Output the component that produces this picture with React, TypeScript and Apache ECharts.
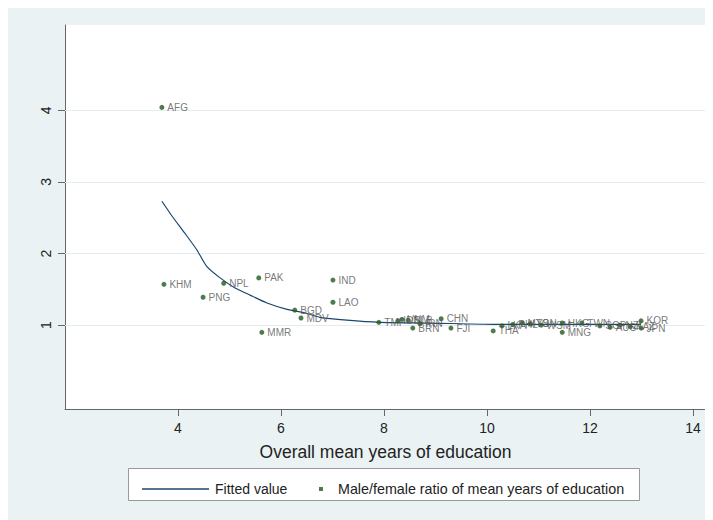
import React, { useEffect, useRef } from "react";
import * as echarts from "echarts";

// Country codes, overall mean years of education (x), male/female ratio (y)
const codes = [
  "AFG", "KHM", "PNG", "NPL", "PAK", "MMR", "BGD", "MDV", "IND", "LAO", "TMP",
  "IDN", "VNM", "SLB", "BRN", "IRN", "CHN", "FJI",
  "THA", "LKA", "PHL", "MYS", "TON", "WSM", "HKG", "MNG",
  "TWN", "SGP", "AUS", "NZL", "KAZ", "KOR", "JPN",
];
const eduYears = [
  3.69, 3.73, 4.49, 4.89, 5.57, 5.63, 6.27, 6.39, 7.01, 7.01, 7.9,
  8.27, 8.35, 8.47, 8.56, 8.7, 9.11, 9.3,
  10.12, 10.29, 10.5, 10.68, 10.84, 11.05, 11.46, 11.46,
  11.84, 12.19, 12.39, 12.58, 12.78, 12.99, 12.99,
];
const ratio = [
  4.04, 1.57, 1.39, 1.585, 1.66, 0.9, 1.21, 1.1, 1.63, 1.32, 1.04,
  1.06, 1.08, 1.07, 0.96, 1.02, 1.09, 0.96,
  0.92, 0.99, 1.01, 1.03, 1.02, 1.0, 1.03, 0.9,
  1.03, 0.99, 0.97, 1.0, 0.98, 1.06, 0.96,
];

// Fitted curve
const fitX = [3.69, 3.9, 4.14, 4.37, 4.56, 4.82, 5.11, 5.4, 5.73, 6.12, 6.47, 6.76, 7.28, 7.92, 8.89, 10.25, 12.19, 12.99];
const fitY = [2.73, 2.51, 2.28, 2.05, 1.82, 1.66, 1.52, 1.42, 1.31, 1.22, 1.17, 1.11, 1.07, 1.04, 1.03, 1.01, 1.01, 1.01];

const xTicks = [4, 6, 8, 10, 12, 14];
const yTicks = [1, 2, 3, 4];

const FIT_NAME = "Fitted value";
const PT_NAME = "Male/female ratio of mean years of education";
const FONT = "'Liberation Sans', Arial, sans-serif";

export default function App() {
  const ref = useRef<HTMLDivElement>(null);
  useEffect(() => {
    if (!ref.current) return;
    const chart = echarts.init(ref.current, null, { renderer: "svg" });
    const points = codes.map((c, i) => ({ name: c, value: [eduYears[i], ratio[i]] }));
    const fit = fitX.map((x, i) => [x, fitY[i]]);
    chart.setOption({
      animation: false,
      backgroundColor: "#eaf2f3",
      textStyle: { fontFamily: FONT },
      grid: {
        left: 57,
        right: 7,
        top: 17,
        bottom: 111,
        show: true,
        backgroundColor: "#ffffff",
        borderWidth: 0,
      },
      xAxis: {
        type: "value",
        min: 1.81,
        max: 14.25,
        name: "Overall mean years of education",
        nameLocation: "middle",
        nameGap: 34,
        nameTextStyle: { fontSize: 17.5, color: "#222", fontFamily: FONT },
        axisLine: { show: true, onZero: false, lineStyle: { color: "#666", width: 1 } },
        axisTick: { show: true, length: 7, lineStyle: { color: "#666" }, customValues: xTicks },
        axisLabel: { fontSize: 14, color: "#222", margin: 12, customValues: xTicks, fontFamily: FONT },
        splitLine: { show: false },
      },
      yAxis: {
        type: "value",
        min: -0.17,
        max: 5.19,
        axisLine: { show: true, onZero: false, lineStyle: { color: "#666", width: 1 } },
        axisTick: { show: true, length: 7, lineStyle: { color: "#666" }, customValues: yTicks },
        axisLabel: { fontSize: 14, color: "#222", margin: 12, rotate: 90, customValues: yTicks, fontFamily: FONT },
        splitLine: { show: false },
      },
      legend: [
        {
          data: [{ name: FIT_NAME, icon: "rect" }],
          left: 129,
          top: 469,
          itemWidth: 67,
          itemHeight: 1.5,
          selectedMode: false,
          itemStyle: { color: "#1a476f" },
          textStyle: { fontSize: 14, color: "#222", padding: [0, 0, 0, 1], fontFamily: FONT },
        },
        {
          data: [{ name: PT_NAME, icon: "rect" }],
          left: 306,
          top: 469,
          itemWidth: 4,
          itemHeight: 4,
          selectedMode: false,
          textStyle: { fontSize: 14.3, color: "#222", padding: [0, 0, 0, 10], fontFamily: FONT },
        },
      ],
      graphic: [
        {
          type: "rect",
          left: 120,
          top: 460,
          z: 0,
          shape: { x: 0, y: 0, width: 511, height: 32 },
          style: { fill: "#ffffff", stroke: "#999", lineWidth: 1 },
        },
      ],
      series: [
        {
          name: FIT_NAME,
          type: "line",
          data: fit,
          symbol: "none",
          smooth: 0.2,
          lineStyle: { color: "#1a476f", width: 1.2 },
          itemStyle: { color: "#1a476f" },
          z: 3,
        },
        {
          name: PT_NAME,
          type: "scatter",
          data: points,
          symbol: "circle",
          symbolSize: 5,
          itemStyle: { color: "#1f5a1f" },
          label: {
            show: true,
            position: "right",
            distance: 3,
            formatter: (p: any) => p.name,
            fontSize: 10,
            color: "#555",
            fontFamily: FONT,
          },
          labelLayout: { hideOverlap: false },
          markLine: {
            silent: true,
            symbol: "none",
            label: { show: false },
            lineStyle: { color: "#e3ecee", width: 1, type: "solid" },
            data: yTicks.map((v) => ({ yAxis: v })),
            z: 1,
          },
          z: 4,
        },
      ],
    });
    return () => chart.dispose();
  }, []);
  return <div ref={ref} style={{ width: 705, height: 512 }} />;
}
